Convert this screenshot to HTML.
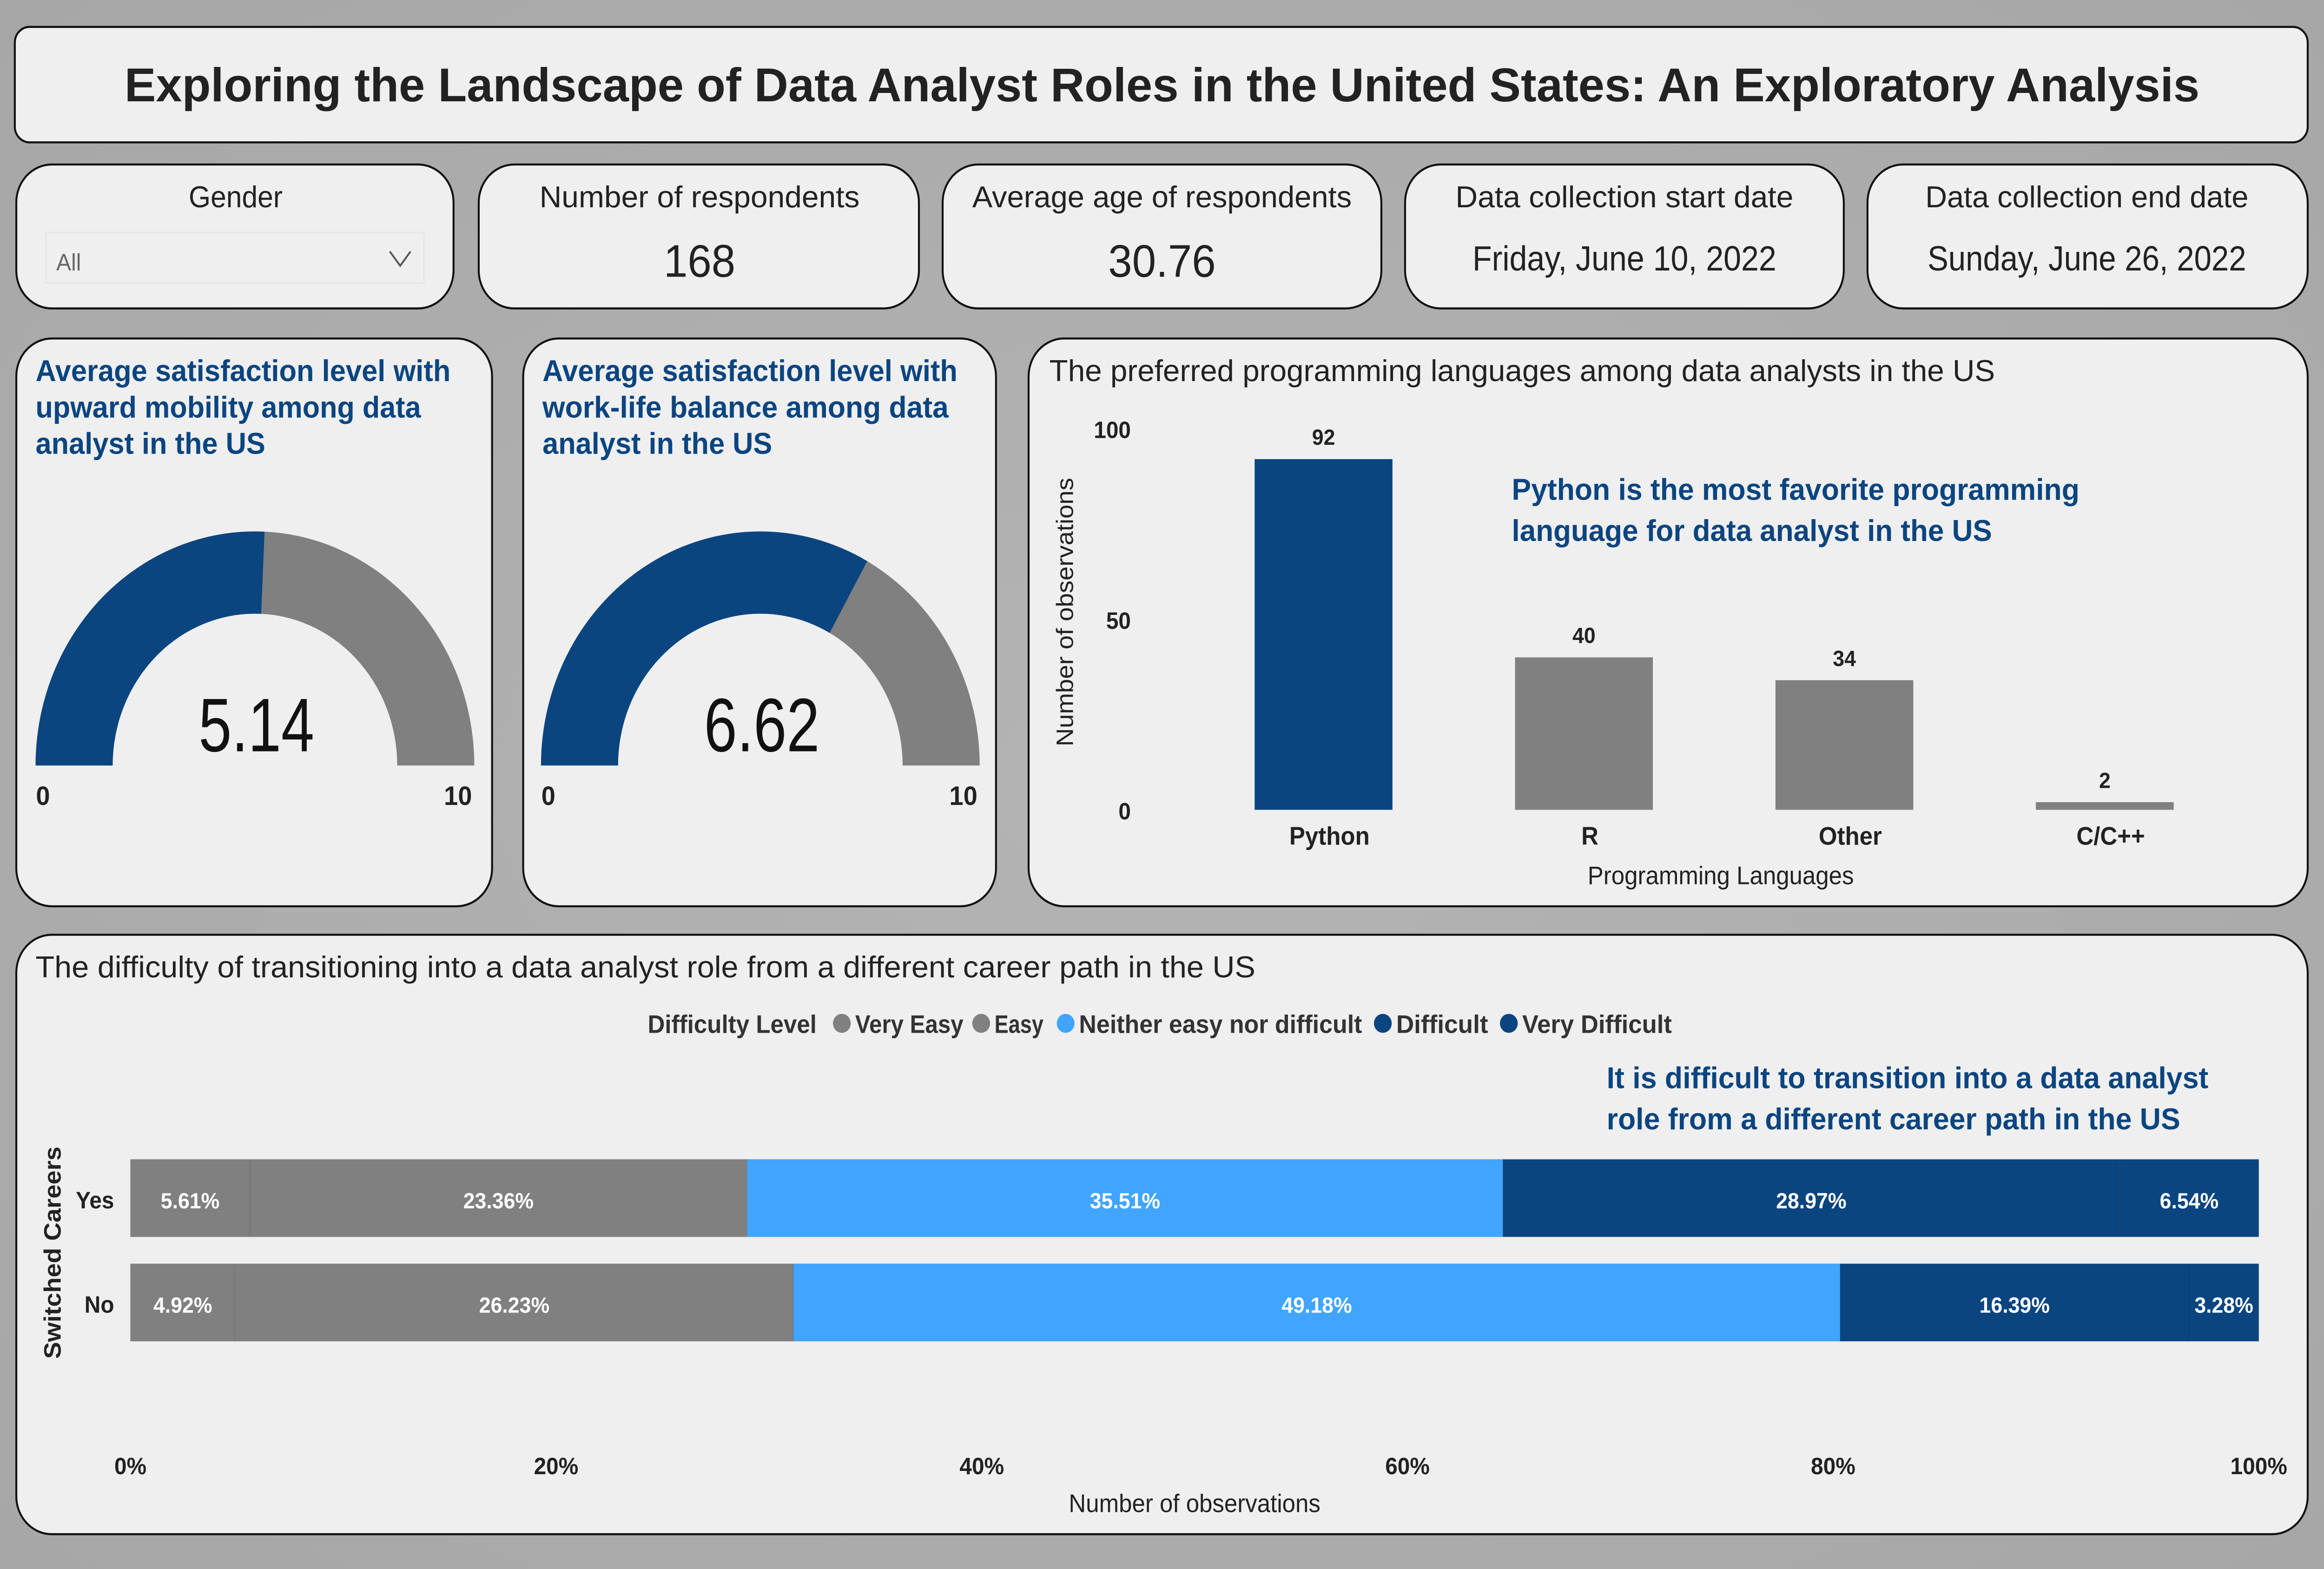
<!DOCTYPE html>
<html><head><meta charset="utf-8"><style>
html,body{margin:0;padding:0;width:100%;height:100%;overflow:hidden;background:#ababab}
svg{display:block;width:100vw;height:100vh}
text{font-family:"Liberation Sans","DejaVu Sans",sans-serif}
</style></head><body>
<svg id="dash" viewBox="0 0 1568 992" preserveAspectRatio="none">
<defs>
<radialGradient id="bg" cx="50%" cy="50%" r="75%"><stop offset="0" stop-color="#b4b4b4"/><stop offset="1" stop-color="#a6a6a6"/></radialGradient>
</defs>
<rect width="1568" height="992" fill="url(#bg)"/>
<g>
<rect x="10" y="17" width="1547" height="73" rx="10" fill="#efefef" stroke="#111" stroke-width="1.3"/>
<text x="784" y="64" text-anchor="middle" font-size="30" font-weight="bold" fill="#222" textLength="1400" lengthAdjust="spacingAndGlyphs">Exploring the Landscape of Data Analyst Roles in the United States: An Exploratory Analysis</text>
</g>
<g>
<rect x="11" y="104" width="295" height="91" rx="24" fill="#efefef" stroke="#111" stroke-width="1.3"/>
<text x="159" y="131" text-anchor="middle" font-size="19" fill="#222">Gender</text>
<g>
<rect x="31" y="147" width="255" height="32" fill="#efefef" stroke="#e6e6e6" stroke-width="1"/>
<text x="38" y="171" font-size="15" fill="#666">All</text>
<path d="M263 159 L270 168 L277 159" fill="none" stroke="#555" stroke-width="1.2"/>
</g>
</g>
<g>
<rect x="323" y="104" width="297" height="91" rx="24" fill="#efefef" stroke="#111" stroke-width="1.3"/>
<text x="472" y="131" text-anchor="middle" font-size="19" fill="#222" textLength="216" lengthAdjust="spacingAndGlyphs">Number of respondents</text>
<text x="472" y="175" text-anchor="middle" font-size="29" fill="#222">168</text>
</g>
<g>
<rect x="636" y="104" width="296" height="91" rx="24" fill="#efefef" stroke="#111" stroke-width="1.3"/>
<text x="784" y="131" text-anchor="middle" font-size="19" fill="#222" textLength="256" lengthAdjust="spacingAndGlyphs">Average age of respondents</text>
<text x="784" y="175" text-anchor="middle" font-size="29" fill="#222">30.76</text>
</g>
<g>
<rect x="948" y="104" width="296" height="91" rx="24" fill="#efefef" stroke="#111" stroke-width="1.3"/>
<text x="1096" y="131" text-anchor="middle" font-size="19" fill="#222" textLength="228" lengthAdjust="spacingAndGlyphs">Data collection start date</text>
<text x="1096" y="171" text-anchor="middle" font-size="22" fill="#222" textLength="205" lengthAdjust="spacingAndGlyphs">Friday, June 10, 2022</text>
</g>
<g>
<rect x="1260" y="104" width="297" height="91" rx="24" fill="#efefef" stroke="#111" stroke-width="1.3"/>
<text x="1408" y="131" text-anchor="middle" font-size="19" fill="#222" textLength="218" lengthAdjust="spacingAndGlyphs">Data collection end date</text>
<text x="1408" y="171" text-anchor="middle" font-size="22" fill="#222" textLength="215" lengthAdjust="spacingAndGlyphs">Sunday, June 26, 2022</text>
</g>
<g>
<rect x="11" y="214" width="321" height="359" rx="24" fill="#efefef" stroke="#111" stroke-width="1.3"/>
<text x="24" y="241" font-size="19" font-weight="bold" fill="#0b4580" textLength="280" lengthAdjust="spacingAndGlyphs">Average satisfaction level with</text>
<text x="24" y="264" font-size="19" font-weight="bold" fill="#0b4580" textLength="260" lengthAdjust="spacingAndGlyphs">upward mobility among data</text>
<text x="24" y="287" font-size="19" font-weight="bold" fill="#0b4580" textLength="155" lengthAdjust="spacingAndGlyphs">analyst in the US</text>
<g id="g1"></g>
</g>
<g>
<rect x="353" y="214" width="319" height="359" rx="24" fill="#efefef" stroke="#111" stroke-width="1.3"/>
<text x="366" y="241" font-size="19" font-weight="bold" fill="#0b4580" textLength="280" lengthAdjust="spacingAndGlyphs">Average satisfaction level with</text>
<text x="366" y="264" font-size="19" font-weight="bold" fill="#0b4580" textLength="274" lengthAdjust="spacingAndGlyphs">work-life balance among data</text>
<text x="366" y="287" font-size="19" font-weight="bold" fill="#0b4580" textLength="155" lengthAdjust="spacingAndGlyphs">analyst in the US</text>
<g id="g2"></g>
</g>
<g>
<rect x="694" y="214" width="863" height="359" rx="24" fill="#efefef" stroke="#111" stroke-width="1.3"/>
<text x="708" y="241" font-size="19" fill="#222" textLength="638" lengthAdjust="spacingAndGlyphs">The preferred programming languages among data analysts in the US</text>
<text transform="translate(724,387) rotate(-90)" text-anchor="middle" font-size="16" fill="#222">Number of observations</text>
<text x="1161" y="559" text-anchor="middle" font-size="16" fill="#222">Programming Languages</text>
<text x="1020" y="316" font-size="19" font-weight="bold" fill="#0b4580" textLength="383" lengthAdjust="spacingAndGlyphs">Python is the most favorite programming</text>
<text x="1020" y="342" font-size="19" font-weight="bold" fill="#0b4580" textLength="324" lengthAdjust="spacingAndGlyphs">language for data analyst in the US</text>
<g id="bars"></g>
</g>
<g>
<rect x="11" y="591" width="1546" height="379" rx="24" fill="#efefef" stroke="#111" stroke-width="1.3"/>
<text x="24" y="618" font-size="19" fill="#222" textLength="823" lengthAdjust="spacingAndGlyphs">The difficulty of transitioning into a data analyst role from a different career path in the US</text>
<text x="1084" y="688" font-size="19" font-weight="bold" fill="#0b4580" textLength="406" lengthAdjust="spacingAndGlyphs">It is difficult to transition into a data analyst</text>
<text x="1084" y="714" font-size="19" font-weight="bold" fill="#0b4580" textLength="387" lengthAdjust="spacingAndGlyphs">role from a different career path in the US</text>
<text transform="translate(41,792) rotate(-90)" text-anchor="middle" font-size="16" font-weight="bold" fill="#222">Switched Careers</text>
<text x="806" y="956" text-anchor="middle" font-size="16" fill="#222">Number of observations</text>
<g id="legend"></g>
<g id="stack"></g>
</g>
</svg>
<script>
// ---- data ----
const gaugeValues = [5.14, 6.62];
const gaugeMax = 10;
const languages = ["Python", "R", "Other", "C/C++"];
const languageCounts = [92, 40, 34, 2];
const yTicks = [0, 50, 100];
const rowsCat = ["Yes", "No"];
const levels = ["Very Easy", "Easy", "Neither easy nor difficult", "Difficult", "Very Difficult"];
const yesShares = [5.61, 23.36, 35.51, 28.97, 6.54];
const noShares = [4.92, 26.23, 49.18, 16.39, 3.28];
const xTicks = [0, 20, 40, 60, 80, 100];

const NS = "http://www.w3.org/2000/svg";
function mk(tag, attrs, parent, txt){
  const e = document.createElementNS(NS, tag);
  for (const k in attrs) e.setAttribute(k, attrs[k]);
  if (txt !== undefined) e.textContent = txt;
  parent.appendChild(e); return e;
}
const BLUE = "#0b4580", GRAY = "#808080", LIGHT = "#41a5ff";

function arcPath(cx, cy, ro, ri, a0, a1){
  const p = (r,a)=>[cx + r*Math.cos(a), cy - r*Math.sin(a)];
  const [x0,y0]=p(ro,a0),[x1,y1]=p(ro,a1),[x2,y2]=p(ri,a1),[x3,y3]=p(ri,a0);
  const large = Math.abs(a0-a1) > Math.PI ? 1 : 0;
  return `M${x0} ${y0} A${ro} ${ro} 0 ${large} 1 ${x1} ${y1} L${x2} ${y2} A${ri} ${ri} 0 ${large} 0 ${x3} ${y3} Z`;
}
const gaugeCenters = [172, 513];
gaugeValues.forEach((v, i) => {
  const g = document.getElementById(i === 0 ? "g1" : "g2");
  const cx = gaugeCenters[i], cy = 484, ro = 148, ri = 96;
  const a = Math.PI * (1 - v / gaugeMax);
  const bg = mk("path", {d: arcPath(cx, cy, ro, ri, Math.PI, 0), fill: GRAY}, g);
  
  
  const fg = mk("path", {d: arcPath(cx, cy, ro, ri, Math.PI, a), fill: BLUE}, g);
  
  
  const t = mk("text", {x: cx + 1, y: 475, "text-anchor": "middle", "font-size": 48, fill: "#111", textLength: 78, lengthAdjust: "spacingAndGlyphs"}, g, v.toFixed(2));
  
  
  const mn = mk("text", {x: cx - 143, y: 509, "text-anchor": "middle", "font-size": 17, "font-weight": "bold", fill: "#222"}, g, "0");
  
  
  const mx = mk("text", {x: cx + 137, y: 509, "text-anchor": "middle", "font-size": 17, "font-weight": "bold", fill: "#222"}, g, String(gaugeMax));
  
  
});

const bars = document.getElementById("bars");
const y0px = 512, y100px = 271;
const yScale = v => y0px - (v / 100) * (y0px - y100px);
const xStart = 893, xStep = 175.7, bw = 93;
const xBand = i => xStart + i * xStep;
yTicks.forEach(t => {
  const e = mk("text", {x: 763, y: yScale(t) + 6, "text-anchor": "end", "font-size": 15, "font-weight": "bold", fill: "#222"}, bars, String(t));
  
  
});
languages.forEach((lang, i) => {
  const v = languageCounts[i], cx = xBand(i);
  const r = mk("rect", {x: cx - bw/2, y: yScale(v), width: bw, height: yScale(0) - yScale(v), fill: i === 0 ? BLUE : GRAY}, bars);
  
  
  const l = mk("text", {x: cx, y: yScale(v) - 9, "text-anchor": "middle", "font-size": 14, "font-weight": "bold", fill: "#222"}, bars, String(v));
  
  
  const c = mk("text", {x: cx + 4, y: 534, "text-anchor": "middle", "font-size": 16, "font-weight": "bold", fill: "#222"}, bars, lang);
  
  
});

const stack = document.getElementById("stack");
const px0 = 88, px1 = 1524;
const xs = p => px0 + (p / 100) * (px1 - px0);
const levelColors = [GRAY, GRAY, LIGHT, BLUE, BLUE];
const rowY = [733, 799], rowH = 49;
[yesShares, noShares].forEach((shares, r) => {
  let acc = 0;
  const total = shares.reduce((a, b) => a + b, 0);
  shares.forEach((s, k) => {
    const a = acc / total * 100, b = (acc + s) / total * 100;
    acc += s;
    const seg = mk("rect", {x: xs(a), y: rowY[r], width: xs(b) - xs(a), height: rowH, fill: levelColors[k], stroke: "rgba(0,0,0,0.06)", "stroke-width": 0.6}, stack);
    
    
    const lab = mk("text", {x: (xs(a) + xs(b)) / 2, y: rowY[r] + 31, "text-anchor": "middle", "font-size": 14, "font-weight": "bold", fill: "#fff"}, stack, s.toFixed(2) + "%");
    
    
  });
  const cl = mk("text", {x: 77, y: rowY[r] + 31, "text-anchor": "end", "font-size": 15, "font-weight": "bold", fill: "#222"}, stack, rowsCat[r]);
  
  
});
xTicks.forEach(t => {
  const e = mk("text", {x: xs(t), y: 932, "text-anchor": "middle", "font-size": 15, "font-weight": "bold", fill: "#222"}, stack, t + "%");
  
  
});

const legend = document.getElementById("legend");
const lt = mk("text", {x: 437, y: 653, "font-size": 16, "font-weight": "bold", fill: "#333", textLength: 114, lengthAdjust: "spacingAndGlyphs"}, legend, "Difficulty Level");


const legX = [562, 656, 713, 927, 1012];
const legW = [73, 33, 191, 62, 101];
levels.forEach((lv, k) => {
  const g = mk("g", {}, legend);
  
  
  mk("circle", {cx: legX[k] + 6, cy: 647, r: 6, fill: levelColors[k]}, g);
  mk("text", {x: legX[k] + 15, y: 653, "font-size": 16, "font-weight": "bold", fill: "#333", textLength: legW[k], lengthAdjust: "spacingAndGlyphs"}, g, lv);
});
</script>
</body></html>
